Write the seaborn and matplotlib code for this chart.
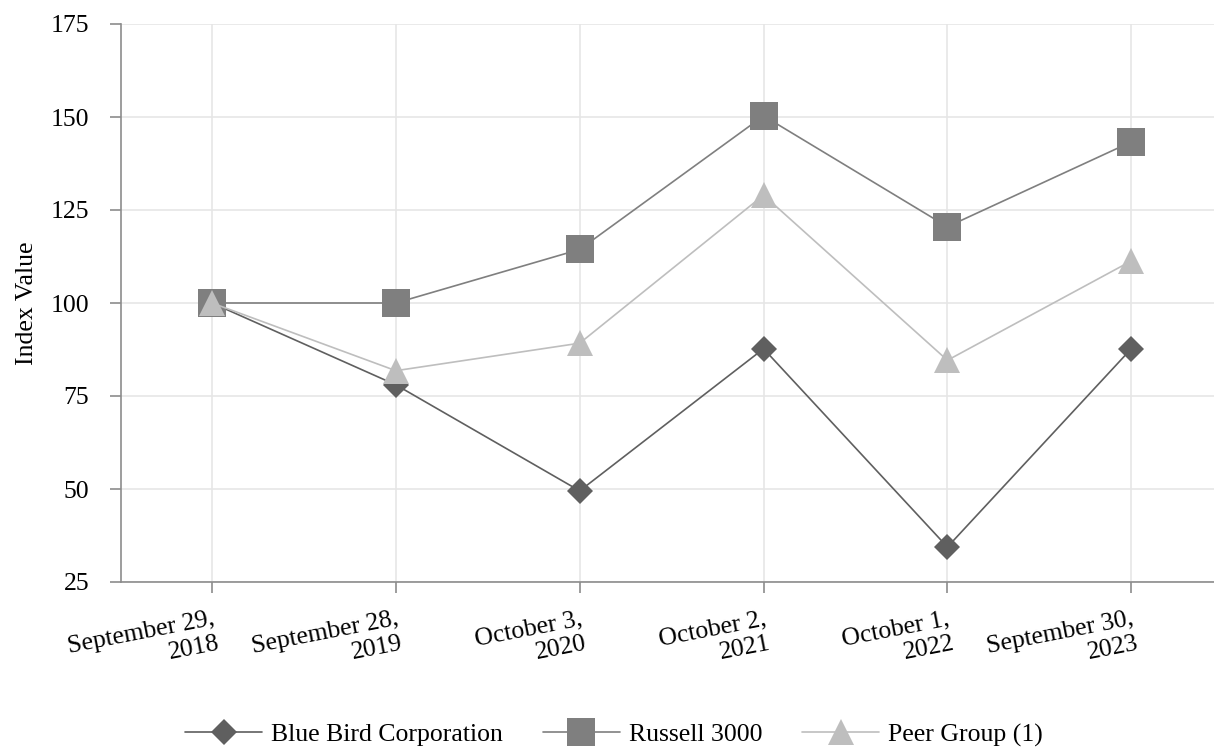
import numpy as np
import pandas as pd
import matplotlib
matplotlib.use("Agg")
import matplotlib.pyplot as plt
import seaborn as sns

categories = ["September 29,\n2018", "September 28,\n2019", "October 3,\n2020",
              "October 2,\n2021", "October 1,\n2022", "September 30,\n2023"]
blue_bird = [100, 78, 49.5, 87.7, 34.4, 87.7]
russell_3000 = [100, 100, 114.4, 150.3, 120.5, 143.3]
peer_group = [100, 81.8, 89.2, 129.0, 84.6, 111.3]
series_names = ["Blue Bird Corporation", "Russell 3000", "Peer Group (1)"]
y_ticks = [25, 50, 75, 100, 125, 150, 175]

sns.set_theme(style="white")
plt.rcParams["font.family"] = ["Liberation Serif", "DejaVu Serif"]

FS = 18.5
fig = plt.figure(figsize=(12.14, 7.48), dpi=100)
ax = fig.add_axes([121 / 1214, 1 - 582 / 748, 1 - 121 / 1214, (582 - 24) / 748])

x = np.arange(len(categories))
styles = [
    dict(color="#5f5f5f", marker="D", markersize=13.7),
    dict(color="#7f7f7f", marker="s", markersize=20),
    dict(color="#bebebe", marker="^", markersize=19),
]
for name, vals, st in zip(series_names, [blue_bird, russell_3000, peer_group], styles):
    sns.lineplot(x=x, y=vals, ax=ax, color=st["color"], marker=st["marker"],
                 markersize=st["markersize"], markeredgecolor=st["color"],
                 markeredgewidth=0, linewidth=1.2, label=name, clip_on=False)

ax.set_xlim(-0.495, 5.45)
ax.set_ylim(25, 175)
ax.set_yticks(y_ticks)
ax.set_yticklabels([str(v) for v in y_ticks])
ax.set_xticks(x)
ax.set_xticklabels(categories, rotation=11, ha="right", rotation_mode="anchor",
                   multialignment="right", linespacing=1.15)
ax.grid(True, color="#e6e6e6", linewidth=1.2)
ax.set_axisbelow(True)
for s in ["top", "right"]:
    ax.spines[s].set_visible(False)
for s in ["left", "bottom"]:
    ax.spines[s].set_color("#8c8c8c")
    ax.spines[s].set_linewidth(1.2)
ax.tick_params(axis="y", which="both", left=True, length=8, width=1.2, color="#8c8c8c",
               labelsize=FS, pad=15, labelcolor="black")
ax.tick_params(axis="x", which="both", bottom=True, length=8, width=1.2, color="#8c8c8c",
               labelsize=FS, pad=11, labelcolor="black")
ax.set_xlabel("")
ax.set_ylabel("Index Value", fontsize=FS, labelpad=9, color="black")

leg = ax.legend(loc="center", bbox_to_anchor=(614 / 1214, 1 - 735 / 748), bbox_transform=fig.transFigure,
                ncol=3, frameon=False, fontsize=FS, handlelength=3.0, handletextpad=0.35,
                columnspacing=1.55, markerscale=1.0)
for t in leg.get_texts():
    t.set_color("black")

fig.savefig("out.png", dpi=100)
